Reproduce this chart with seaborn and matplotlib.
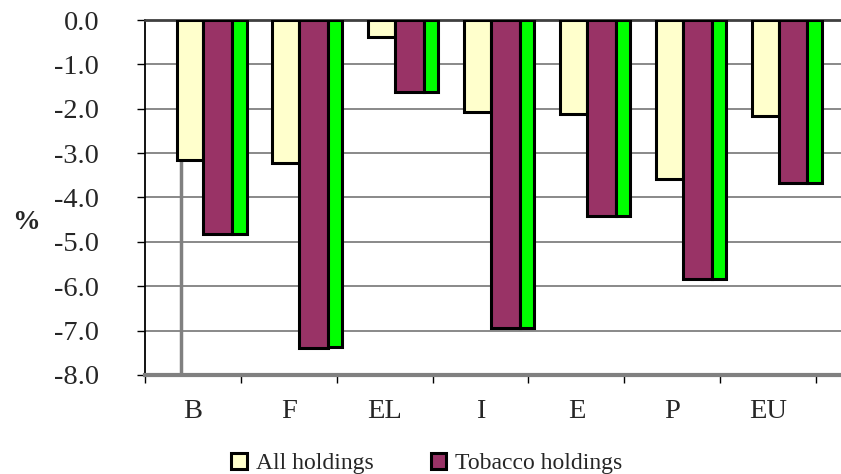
import pandas as pd
import matplotlib
matplotlib.use("Agg")
import matplotlib.pyplot as plt
from matplotlib.ticker import FixedLocator, FormatStrFormatter
import seaborn as sns

countries = ["B", "F", "EL", "I", "E", "P", "EU"]
all_holdings = [-3.15, -3.22, -0.38, -2.07, -2.12, -3.58, -2.16]
tobacco_holdings = [-4.82, -7.39, -1.62, -6.94, -4.41, -5.83, -3.67]
third_series = [-4.82, -7.37, -1.62, -6.94, -4.41, -5.83, -3.67]
series_names = ["All holdings", "Tobacco holdings", "Series 3"]
colors = ["#FFFFCC", "#993366", "#00FF00"]


def main():
    sns.set_style("white")
    plt.rcParams["font.family"] = ["Liberation Serif", "DejaVu Serif"]

    df = pd.DataFrame({
        "country": countries * 3,
        "value": all_holdings + tobacco_holdings + third_series,
        "series": [s for s in series_names for _ in countries],
    })

    fig = plt.figure(figsize=(8.41, 4.74), dpi=100)
    ax = fig.add_axes([0.1724, 0.2089, 0.8276, 0.7489])

    sns.barplot(data=df, x="country", y="value", hue="series",
                palette=colors, saturation=1, edgecolor="black", linewidth=2.2,
                errorbar=None, legend=False, ax=ax, zorder=3)

    # bar layout as in the original: two wide bars and a narrow third one
    layout = [(-0.17, 0.28), (0.11, 0.30), (0.41, 0.15)]
    for cont, (off, w) in zip(ax.containers, layout):
        for j, rect in enumerate(cont):
            rect.set_x(j + off)
            rect.set_width(w)

    # grey leader line under the first bar
    ax.vlines(-0.12, -8, all_holdings[0], color="#808080", lw=2.5, zorder=2)

    ax.set_xlim(-0.5, 6.76)
    ax.set_ylim(-8, 0)
    ax.yaxis.set_major_locator(FixedLocator([0, -1, -2, -3, -4, -5, -6, -7, -8]))
    ax.yaxis.set_major_formatter(FormatStrFormatter("%.1f"))
    ax.grid(axis="y", color="#808080", lw=1.3, zorder=0)
    ax.grid(axis="x", visible=False)

    ax.set_xticks(range(len(countries)))
    ax.set_xticklabels(countries)
    ax.set_xticks([i - 0.5 for i in range(len(countries) + 1)], minor=True)
    ax.tick_params(axis="x", which="major", length=0, pad=17, labelsize=20.5)
    ax.tick_params(axis="x", which="minor", length=6, width=1, color="black",
                   direction="out", bottom=True)
    ax.tick_params(axis="y", length=6, width=1, color="black", direction="out",
                   left=True, pad=27, labelsize=20.5)

    ax.set_xlabel("")
    ax.set_ylabel("")
    ax.spines["right"].set_visible(False)
    ax.spines["left"].set_color("black")
    ax.spines["left"].set_linewidth(1.3)
    ax.spines["top"].set_color("#404040")
    ax.spines["top"].set_linewidth(2)
    ax.spines["bottom"].set_color("#808080")
    ax.spines["bottom"].set_linewidth(3)

    fig.text(0.014, 0.53, "%", fontsize=20, fontweight="bold", va="center")

    handles = [ax.containers[0][0], ax.containers[1][0]]
    fig.legend(handles=handles, labels=series_names[:2], loc="center left",
               bbox_to_anchor=(0.264, 0.022), ncol=2, frameon=False,
               fontsize=17, handlelength=0.65, handleheight=0.65,
               handletextpad=0.4, columnspacing=2.4, borderaxespad=0)

    fig.savefig("out.png", dpi=100)
    plt.close(fig)


if __name__ == "__main__":
    main()
